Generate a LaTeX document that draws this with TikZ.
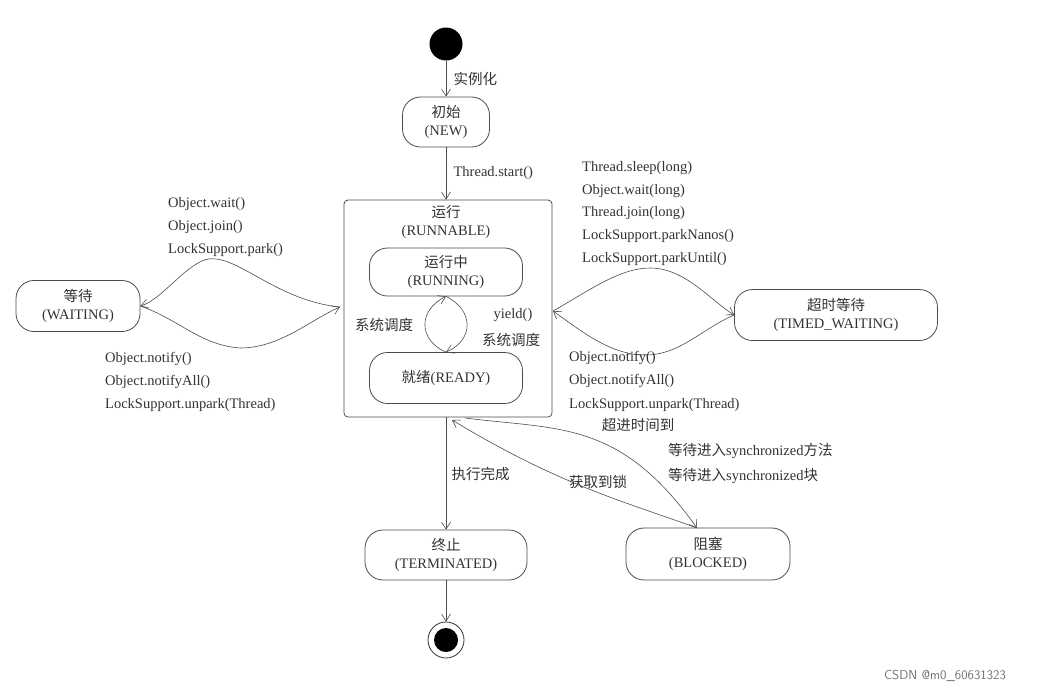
\documentclass[tikz,border=0pt]{standalone}
\usepackage{fontspec}
\setmainfont{Liberation Serif}
\newfontfamily\cjk{Noto Sans CJK SC}
\newcommand{\zh}[1]{{\cjk #1}}
\usetikzlibrary{arrows.meta}
\begin{document}
\begin{tikzpicture}[x=1pt,y=-1pt,
  every node/.style={font=\fontsize{14.5}{18}\selectfont, text=black!80},
  st/.style={draw=black!70, rounded corners=18pt, align=center, inner sep=0pt, thick},
  ar/.style={draw=black!70, -{Straight Barb[length=7pt,width=9pt]}, semithick},
  lb/.style={anchor=west, inner sep=0pt}]
\useasboundingbox (0,0) rectangle (1049,694);
\fill[white] (0,0) rectangle (1049,694);
% start
\node[circle, fill=black, minimum size=33pt, inner sep=0pt] (start) at (446,44) {};
\node[st, minimum width=87pt, minimum height=50pt] (new) at (446,122) {\zh{初始}\\(NEW)};
\draw[ar] (start) -- (new) node[midway, right=4pt] {\zh{实例化}};
% runnable box
\node[draw=black!70, thick, rounded corners=4pt, minimum width=208pt, minimum height=217pt] (box) at (448,308.5) {};
\node[align=center] (rtitle) at (446,222) {\zh{运行}\\(RUNNABLE)};
\draw[ar] (new) -- (box.north -| new) node[midway, right=4pt] {Thread.start()};
\node[st, minimum width=153pt, minimum height=48pt] (run) at (446,272) {\zh{运行中}\\(RUNNING)};
\node[st, minimum width=153pt, minimum height=51pt] (ready) at (446,378) {\zh{就绪}(READY)};
\draw[ar] (ready.north) .. controls (418,340) and (418,310) .. (run.south);
\draw[ar] (run.south) .. controls (474,310) and (474,340) .. (ready.north);
\node (s1) at (384,325) {\zh{系统调度}};
\node (y1) at (513,315) {yield()};
\node (s2) at (511,340) {\zh{系统调度}};
% waiting
\node[st, minimum width=124pt, minimum height=51pt] (wait) at (78,306) {\zh{等待}\\(WAITING)};
\coordinate (bl) at (340,307);
\draw[ar] (bl) .. controls (270,300) and (230,245) .. (200,262) .. controls (180,272) and (160,300) .. (wait.east);
\draw[ar] (wait.east) .. controls (180,320) and (200,345) .. (240,348) .. controls (280,348) and (310,320) .. (bl);
\node[lb] at (168,204) {Object.wait()};
\node[lb] at (168,227) {Object.join()};
\node[lb] at (168,250) {LockSupport.park()};
\node[lb] at (105,359) {Object.notify()};
\node[lb] at (105,382) {Object.notifyAll()};
\node[lb] at (105,405) {LockSupport.unpark(Thread)};
% timed waiting
\node[st, minimum width=203pt, minimum height=51pt] (tw) at (836,315) {\zh{超时等待}\\(TIMED\_WAITING)};
\coordinate (br) at (553,311);
\draw[ar] (br) .. controls (590,290) and (620,268) .. (650,268) .. controls (685,268) and (710,300) .. (tw.west);
\draw[ar] (tw.west) .. controls (700,330) and (680,355) .. (645,355) .. controls (610,355) and (580,330) .. (br);
\node[lb] at (582,168) {Thread.sleep(long)};
\node[lb] at (582,191) {Object.wait(long)};
\node[lb] at (582,213) {Thread.join(long)};
\node[lb] at (582,236) {LockSupport.parkNanos()};
\node[lb] at (582,259) {LockSupport.parkUntil()};
\node[lb] at (569,358) {Object.notify()};
\node[lb] at (569,381) {Object.notifyAll()};
\node[lb] at (569,405) {LockSupport.unpark(Thread)};
% terminated
\node[st, minimum width=162pt, minimum height=50pt] (term) at (446,555) {\zh{终止}\\(TERMINATED)};
\draw[ar] (box.south -| term) -- (term) node[pos=0.5, right=2pt] {\zh{执行完成}};
\node[circle, draw=black!80, thick, minimum size=36pt, inner sep=0pt] (endc) at (446,640) {};
\node[circle, fill=black, minimum size=24pt, inner sep=0pt] at (endc) {};
\draw[ar] (term) -- (endc);
% blocked
\node[st, minimum width=164pt, minimum height=52pt] (blk) at (708,554) {\zh{阻塞}\\(BLOCKED)};
\coordinate (bb1) at (452,420);
\coordinate (bb2) at (465,418);
\coordinate (bt) at (697,528);
\draw[ar] (bt) .. controls (620,500) and (560,485) .. (452,420);
\draw[ar] (bb2) .. controls (560,430) and (620,420) .. (bt);
\node (lk) at (598,482) {\zh{获取到锁}};
\node (to) at (638,425) {\zh{超进时间到}};
\node[lb] at (668,451) {\zh{等待进入}synchronized\zh{方法}};
\node[lb] at (668,476) {\zh{等待进入}synchronized\zh{块}};
\node[font=\sffamily\fontsize{13}{15}\selectfont, text=black!55] at (945,676) {CSDN @m0\_60631323};
\end{tikzpicture}
\end{document}
